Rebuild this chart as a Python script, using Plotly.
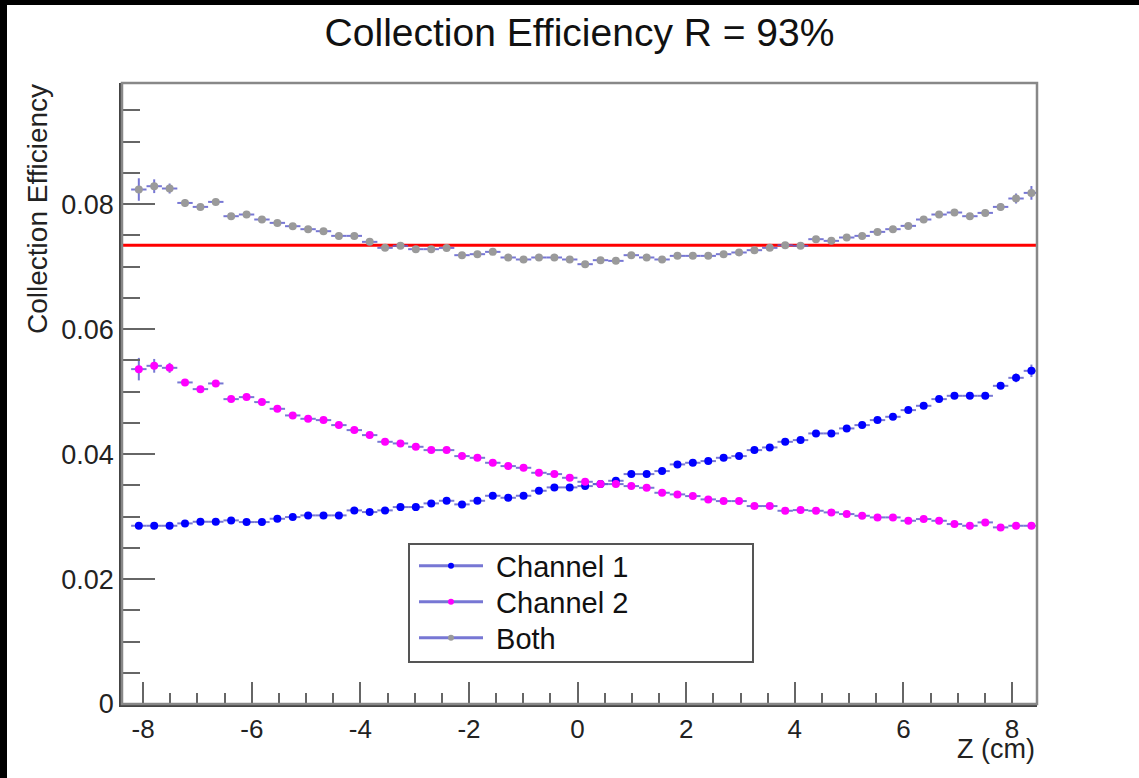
import plotly.graph_objects as go

# ---- data ----
z_cm = [-8.080, -7.797, -7.513, -7.230, -6.946, -6.663, -6.380, -6.096, -5.813, -5.529,
        -5.246, -4.963, -4.679, -4.396, -4.112, -3.829, -3.546, -3.262, -2.979, -2.695,
        -2.412, -2.129, -1.845, -1.562, -1.278, -0.995, -0.712, -0.428, -0.145, 0.139,
        0.422, 0.705, 0.989, 1.272, 1.556, 1.839, 2.122, 2.406, 2.689, 2.973,
        3.256, 3.539, 3.823, 4.106, 4.390, 4.673, 4.956, 5.240, 5.523, 5.807,
        6.090, 6.373, 6.657, 6.940, 7.224, 7.507, 7.790, 8.074, 8.357]
bin_half_width = 0.1417

channel1 = [0.02853, 0.02853, 0.02853, 0.02891, 0.02917, 0.02917, 0.02939, 0.02912, 0.02912, 0.02965,
            0.02992, 0.03019, 0.03019, 0.03019, 0.03099, 0.03072, 0.03099, 0.03152, 0.03152, 0.03211,
            0.03253, 0.03195, 0.03253, 0.03333, 0.03301, 0.03333, 0.03413, 0.03467, 0.03467, 0.03488,
            0.03520, 0.03573, 0.03680, 0.03680, 0.03728, 0.03835, 0.03861, 0.03888, 0.03941, 0.03968,
            0.04064, 0.04107, 0.04197, 0.04224, 0.04331, 0.04331, 0.04411, 0.04464, 0.04544, 0.04597,
            0.04704, 0.04773, 0.04880, 0.04933, 0.04933, 0.04933, 0.05093, 0.05221, 0.05333]
channel2 = [0.05360, 0.05413, 0.05381, 0.05147, 0.05040, 0.05131, 0.04880, 0.04912, 0.04832, 0.04725,
            0.04619, 0.04565, 0.04544, 0.04464, 0.04384, 0.04304, 0.04197, 0.04171, 0.04117, 0.04064,
            0.04064, 0.03968, 0.03941, 0.03861, 0.03808, 0.03781, 0.03701, 0.03680, 0.03621, 0.03557,
            0.03520, 0.03520, 0.03488, 0.03461, 0.03381, 0.03355, 0.03328, 0.03275, 0.03248, 0.03248,
            0.03168, 0.03168, 0.03093, 0.03104, 0.03093, 0.03067, 0.03040, 0.03013, 0.02987, 0.02987,
            0.02933, 0.02960, 0.02933, 0.02880, 0.02853, 0.02907, 0.02827, 0.02853, 0.02853]
both = [0.08235, 0.08288, 0.08251, 0.08020, 0.07957, 0.08037, 0.07808, 0.07835, 0.07755, 0.07701,
        0.07648, 0.07600, 0.07568, 0.07493, 0.07493, 0.07397, 0.07301, 0.07333, 0.07280, 0.07280,
        0.07300, 0.07184, 0.07200, 0.07237, 0.07147, 0.07115, 0.07147, 0.07147, 0.07115, 0.07040,
        0.07104, 0.07093, 0.07184, 0.07147, 0.07115, 0.07173, 0.07173, 0.07173, 0.07200, 0.07227,
        0.07264, 0.07301, 0.07344, 0.07333, 0.07440, 0.07413, 0.07467, 0.07493, 0.07557, 0.07600,
        0.07653, 0.07755, 0.07835, 0.07867, 0.07808, 0.07861, 0.07957, 0.08091, 0.08181]

err_channel1 = [0.0004, 0.0004, 0.0004, 0.0004, 0.0003, 0.0003, 0.0003, 0.0003, 0.0003, 0.0003,
                0.0003, 0.0003, 0.0003, 0.0003, 0.0003, 0.0003, 0.0003, 0.0003, 0.0003, 0.0003,
                0.0003, 0.0003, 0.0003, 0.0003, 0.0003, 0.0003, 0.0003, 0.0003, 0.0003, 0.0003,
                0.0003, 0.0003, 0.0003, 0.0003, 0.0003, 0.0003, 0.0003, 0.0003, 0.0003, 0.0003,
                0.0003, 0.0003, 0.0003, 0.0003, 0.0003, 0.0003, 0.0003, 0.0003, 0.0003, 0.0003,
                0.0003, 0.0003, 0.0003, 0.0004, 0.0004, 0.0004, 0.0005, 0.0007, 0.0010]
err_channel2 = [0.0018, 0.0011, 0.0008, 0.0005, 0.0005, 0.0004, 0.0004, 0.0004, 0.0003, 0.0003,
                0.0003, 0.0003, 0.0003, 0.0003, 0.0003, 0.0003, 0.0003, 0.0003, 0.0003, 0.0003,
                0.0003, 0.0003, 0.0003, 0.0003, 0.0003, 0.0003, 0.0003, 0.0003, 0.0003, 0.0003,
                0.0003, 0.0003, 0.0003, 0.0003, 0.0003, 0.0003, 0.0003, 0.0003, 0.0003, 0.0003,
                0.0003, 0.0003, 0.0003, 0.0003, 0.0003, 0.0003, 0.0003, 0.0003, 0.0003, 0.0003,
                0.0003, 0.0003, 0.0003, 0.0003, 0.0003, 0.0003, 0.0003, 0.0004, 0.0004]
err_both = [0.0018, 0.0011, 0.0008, 0.0006, 0.0005, 0.0005, 0.0004, 0.0004, 0.0004, 0.0004,
            0.0004, 0.0004, 0.0004, 0.0004, 0.0004, 0.0004, 0.0004, 0.0004, 0.0004, 0.0004,
            0.0004, 0.0004, 0.0004, 0.0004, 0.0004, 0.0004, 0.0004, 0.0004, 0.0004, 0.0004,
            0.0004, 0.0004, 0.0004, 0.0004, 0.0004, 0.0004, 0.0004, 0.0004, 0.0004, 0.0004,
            0.0004, 0.0004, 0.0004, 0.0004, 0.0004, 0.0004, 0.0004, 0.0004, 0.0004, 0.0004,
            0.0004, 0.0004, 0.0004, 0.0004, 0.0004, 0.0005, 0.0006, 0.0008, 0.0011]

mean_level = 0.07344

x_ticks = [-8, -6, -4, -2, 0, 2, 4, 6, 8]
x_tick_text = ["-8", "-6", "-4", "-2", "0", "2", "4", "6", "8"]
y_ticks = [0, 0.02, 0.04, 0.06, 0.08]
y_tick_text = ["0", "0.02", "0.04", "0.06", "0.08"]

title_text = "Collection Efficiency R = 93%"
x_title = "Z (cm)"
y_title = "Collection Efficiency"
series_names = ["Channel 1", "Channel 2", "Both"]

# ---- style / geometry (page pixels) ----
FONT = "Liberation Sans, Arial, Helvetica, sans-serif"
ERR_COLOR = "rgba(95,95,205,0.85)"
COLORS = {"Channel 1": "#0000ff", "Channel 2": "#ff00ff", "Both": "#9a9a9a"}

PAGE_W, PAGE_H = 1139, 778
OFF_X, OFF_Y = 7, 5          # black screen-edge bands (body background)
W, H = PAGE_W - OFF_X, PAGE_H - OFF_Y
PLOT_L, PLOT_R, PLOT_T, PLOT_B = 122, 1037, 83, 704   # page pixel frame
L, R, T, B = PLOT_L - OFF_X, PAGE_W - PLOT_R, PLOT_T - OFF_Y, PAGE_H - PLOT_B
PW, PH = W - L - R, H - T - B


def px_x(p):
    return (p - PLOT_L) / PW


def px_y(p):
    return (PLOT_B - p) / PH


fig = go.Figure()

series = [("Both", both, err_both), ("Channel 1", channel1, err_channel1),
          ("Channel 2", channel2, err_channel2)]
for name, vals, errs in series:
    fig.add_trace(go.Scatter(
        x=z_cm, y=vals, mode="markers", name=name, showlegend=False,
        marker=dict(symbol="circle", size=8, color=COLORS[name], line=dict(width=0)),
        error_y=dict(type="data", array=errs, visible=True, color=ERR_COLOR, thickness=2, width=0),
        error_x=dict(type="constant", value=bin_half_width, visible=True, color=ERR_COLOR,
                     thickness=2, width=0),
        hoverinfo="x+y",
    ))

# legend-only entries, one legend per entry so the row spacing matches
legend_ids = ["legend", "legend2", "legend3"]
legend_rows_px = [566, 602, 638]
for name, lid in zip(series_names, legend_ids):
    fig.add_trace(go.Scatter(
        x=[None], y=[None], mode="lines+markers", name="\u00a0" + name, legend=lid,
        line=dict(color=ERR_COLOR, width=3),
        marker=dict(symbol="circle", size=6, color=COLORS[name]),
    ))

shapes = [
    # mean line
    dict(type="line", xref="paper", x0=0, x1=1, yref="y", y0=mean_level, y1=mean_level,
         line=dict(color="#ff0000", width=3), layer="below"),
    # frame
    dict(type="rect", xref="paper", yref="paper", x0=0, x1=1, y0=0, y1=1,
         line=dict(color="#888888", width=2.5), layer="above"),
    # legend box
    dict(type="rect", xref="paper", yref="paper", x0=px_x(409), x1=px_x(753),
         y0=px_y(662), y1=px_y(544), line=dict(color="#555555", width=2),
         fillcolor="white", layer="below"),
]

annotations = [
    dict(text=y_title, xref="paper", yref="paper", x=px_x(37), y=px_y(82),
         xanchor="center", yanchor="top", textangle=-90, showarrow=False,
         font=dict(family=FONT, size=28, color="#222222")),
    dict(text=x_title, xref="paper", yref="paper", x=1, y=px_y(749),
         xanchor="right", yanchor="middle", showarrow=False,
         font=dict(family=FONT, size=27, color="#222222")),
]

legend_common = dict(xanchor="left", yanchor="middle", bgcolor="rgba(0,0,0,0)", borderwidth=0,
                     font=dict(family=FONT, size=29, color="#111111"), itemwidth=64)
legend_layout = {}
for lid, row in zip(legend_ids, legend_rows_px):
    legend_layout[lid] = dict(x=px_x(414), y=px_y(row), **legend_common)

fig.update_layout(
    width=W, height=H,
    margin=dict(l=L, r=R, t=T, b=B, pad=0),
    paper_bgcolor="white", plot_bgcolor="white",
    font=dict(family=FONT, color="#222222"),
    title=dict(text=title_text, x=0.5, xref="paper", y=1 - (32 - OFF_Y) / H, yref="container",
               xanchor="center", yanchor="middle",
               font=dict(family=FONT, size=39, color="#111111")),
    showlegend=True,
    shapes=shapes,
    annotations=annotations,
    xaxis=dict(range=[-8.39, 8.46], tickvals=x_ticks, ticktext=x_tick_text,
               ticks="inside", ticklen=22, tickwidth=2, tickcolor="#666666",
               minor=dict(dtick=0.5, tick0=0, ticks="inside", ticklen=11, tickwidth=2,
                          tickcolor="#666666", showgrid=False),
               showline=True, linecolor="#444444", linewidth=2.5,
               showgrid=False, zeroline=False,
               tickfont=dict(family=FONT, size=26, color="#222222")),
    yaxis=dict(range=[0, 0.0994], tickvals=y_ticks, ticktext=y_tick_text,
               ticks="inside", ticklen=33, tickwidth=2, tickcolor="#666666",
               minor=dict(dtick=0.005, tick0=0, ticks="inside", ticklen=18, tickwidth=2,
                          tickcolor="#666666", showgrid=False),
               showline=True, linecolor="#444444", linewidth=2.5,
               showgrid=False, zeroline=False,
               tickfont=dict(family=FONT, size=27, color="#222222")),
    **legend_layout,
)

fig.write_html(
    "out.html",
    config={"displayModeBar": False},
    post_script=("document.body.style.margin='0px';"
                 "document.body.style.padding='%dpx 0 0 %dpx';"
                 "document.body.style.background='black';"
                 "document.documentElement.style.background='black';"
                 "document.body.style.overflow='hidden';") % (OFF_Y, OFF_X),
)
